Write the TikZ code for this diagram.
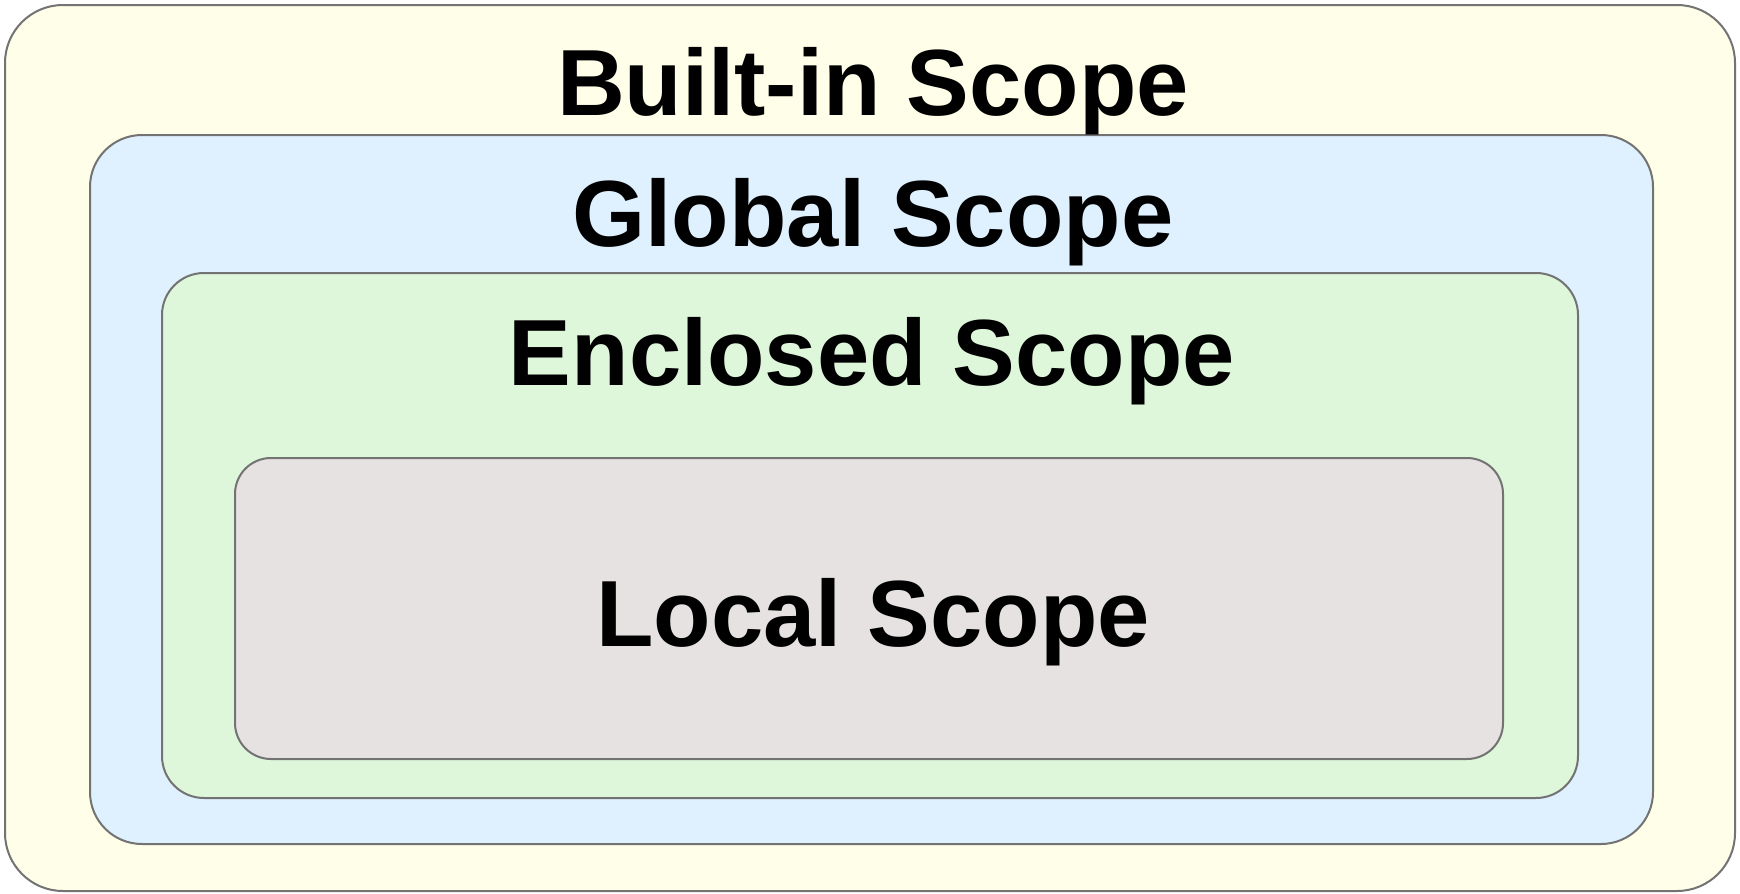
\documentclass[tikz,border=0pt]{standalone}
\usepackage{fontspec}
\setmainfont{Liberation Sans}
\begin{document}
\definecolor{edgegray}{HTML}{737373}
\definecolor{builtinfill}{HTML}{FFFEE8}
\definecolor{globalfill}{HTML}{DFF0FE}
\definecolor{enclosedfill}{HTML}{DEF6DA}
\definecolor{localfill}{HTML}{E6E2E1}
\begin{tikzpicture}[x=1pt,y=-1pt,
  scopebox/.style={draw=edgegray,line width=2pt},
  scopelabel/.style={anchor=base,inner sep=0pt,font=\bfseries\fontsize{94}{100}\selectfont}]
  \useasboundingbox (0,0) rectangle (1740,894);
  % nested scope regions, outermost first
  \draw[scopebox,fill=builtinfill,rounded corners=58pt] (5,5) rectangle (1735,891);
  \draw[scopebox,fill=globalfill,rounded corners=52pt] (90,135) rectangle (1653,844);
  \draw[scopebox,fill=enclosedfill,rounded corners=42pt] (162,273) rectangle (1578,798);
  \draw[scopebox,fill=localfill,rounded corners=36pt] (235,458) rectangle (1503,759);
  % labels
  \node[scopelabel] (builtin) at (873,115) {Built-in Scope};
  \node[scopelabel] (global) at (873,246) {Global Scope};
  \node[scopelabel] (enclosed) at (872,385) {Enclosed Scope};
  \node[scopelabel] (local) at (873,646) {Local Scope};
\end{tikzpicture}
\end{document}
